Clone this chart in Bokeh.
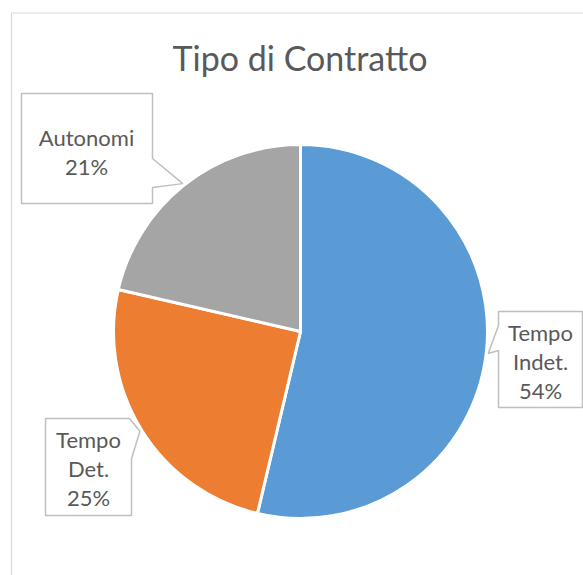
import math
from bokeh.plotting import figure
from bokeh.models import Range1d, ColumnDataSource
from bokeh.core.properties import value
from bokeh.embed import file_html
from bokeh.resources import INLINE

# ---- data ----
title = "Tipo di Contratto"
categories = ["Tempo Indet.", "Tempo Det.", "Autonomi"]
label_lines = [["Tempo", "Indet."], ["Tempo", "Det."], ["Autonomi"]]
shares = [53.7, 24.9, 21.4]
colors = ["#5B9BD5", "#ED7D31", "#A5A5A5"]

# ---- layout (image pixel coordinates) ----
W, H = 583, 575
def Y(img_y):
    return H - img_y

p = figure(width=W, height=H, output_backend="svg", toolbar_location=None,
           x_range=Range1d(0, W), y_range=Range1d(0, H), min_border=0)
p.axis.visible = False
p.grid.visible = False
p.outline_line_color = None
p.background_fill_color = "white"
p.border_fill_color = "white"

# chart border
p.quad(left=[11], right=[620], top=[Y(12.5)], bottom=[Y(620)],
       fill_color=None, line_color="#D9D9D9", line_width=1.2)

# pie
cx, cy, r = 300, 331, 187
total = sum(shares)
cum = 0.0
starts, ends, mids = [], [], []
for v in shares:
    a0 = cum / total * 2 * math.pi
    cum += v
    a1 = cum / total * 2 * math.pi
    starts.append(math.pi / 2 - a1)
    ends.append(math.pi / 2 - a0)
    mids.append((a0 + a1) / 2)

src = ColumnDataSource(dict(start=starts, end=ends, color=colors, cat=categories))
p.wedge(x=cx, y=Y(cy), radius=r, start_angle="start", end_angle="end",
        fill_color="color", line_color="white", line_width=3, source=src)

# callouts
def tip(i, extra=2):
    a = mids[i]
    return cx + (r + extra) * math.sin(a), cy - (r + extra) * math.cos(a)

t0 = tip(0); t1 = tip(1); t2 = tip(2)
box_xs = [
    [498, 498, t0[0], 498, 498, 582, 582],
    [45, 129, t1[0], 131, 131, 45],
    [21, 152, 152, t2[0], 152, 152, 21],
]
box_ys = [
    [311, 325, t0[1], 350, 407, 407, 311],
    [418, 418, t1[1], 458, 515, 515],
    [93, 93, 158, t2[1], 187, 203, 203],
]
p.patches(xs=box_xs, ys=[[Y(v) for v in ys] for ys in box_ys],
          fill_color="white", line_color="#BFBFBF", line_width=1.5)

text_color = "#595959"
font = value("Lato")
label_centers = [(540, 332), (88, 439), (86, 137)]
tx, ty, tt = [], [], []
for i, (lx, ly) in enumerate(label_centers):
    lines = label_lines[i] + [f"{round(shares[i] / total * 100)}%"]
    for k, s in enumerate(lines):
        tx.append(lx); ty.append(Y(ly + k * 29)); tt.append(s)
p.text(x=tx, y=ty, text=tt, text_align="center", text_baseline="middle",
       text_font=font, text_font_size="22px", text_color=text_color)

p.text(x=[299.5], y=[Y(57)], text=[title], text_align="center",
       text_baseline="middle", text_font=font, text_font_size="34px",
       text_color=text_color)

open("out.html", "w").write(file_html(p, INLINE))
